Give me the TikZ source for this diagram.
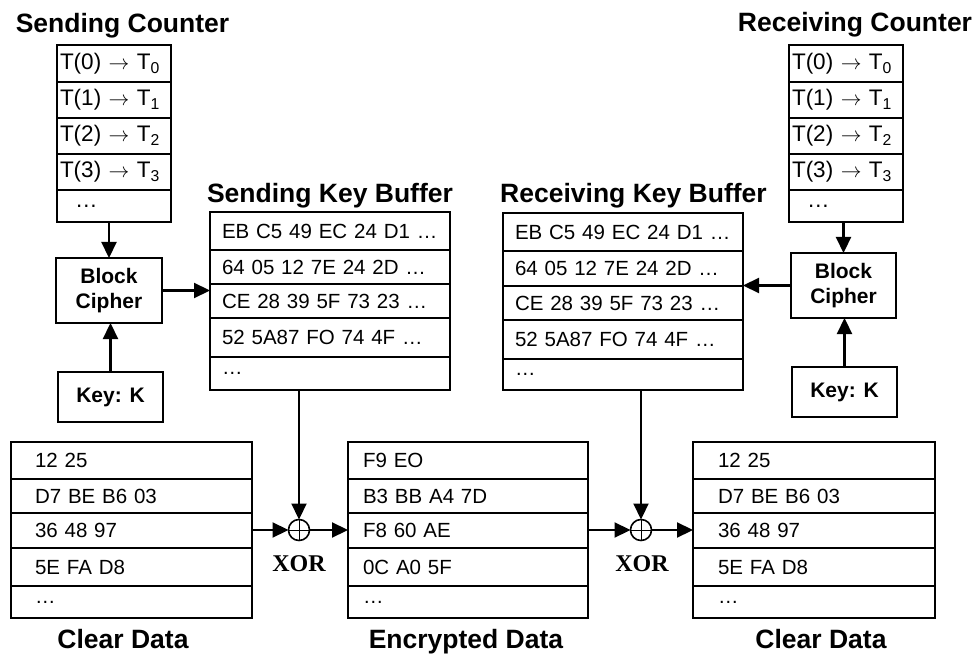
\documentclass[tikz,border=0pt]{standalone}
\usepackage{fontspec}
\setmainfont{Liberation Sans}
\newfontfamily\xorfont{Liberation Serif}
\usetikzlibrary{arrows.meta}

% one row of a stacked table: name, style, x, top y, height, text
\newcommand\cellrow[6]{%
  \node[#2, minimum height=#5pt, anchor=north west] (#1) at (#3,#4) {\mbox{#6}};}

\begin{document}
\begin{tikzpicture}[x=1pt, y=-1pt,
  cellbase/.style={draw, line width=2.5pt, outer sep=0pt, inner ysep=0pt, align=left},
  ctrrow/.style={cellbase, inner xsep=3pt, text width=108pt, font=\fontsize{22.5}{26}\selectfont},
  keyrow/.style={cellbase, inner xsep=12pt, text width=216pt, font=\fontsize{20.5}{24}\selectfont},
  clrrow/.style={cellbase, inner xsep=24pt, text width=193pt, font=\fontsize{20.5}{24}\selectfont},
  encrow/.style={cellbase, inner xsep=15pt, text width=210pt, font=\fontsize{20.5}{24}\selectfont},
  clrrowb/.style={cellbase, inner xsep=25pt, text width=192pt, font=\fontsize{20.5}{24}\selectfont},
  unit/.style={draw, line width=2.5pt, outer sep=0pt, align=center, inner sep=0pt,
    font=\bfseries\fontsize{21}{25}\selectfont},
  title/.style={anchor=base, font=\bfseries\fontsize{26.5}{31}\selectfont},
  xorgate/.style={circle, draw, line width=1.6pt, minimum size=21pt, inner sep=0pt, outer sep=0pt,
    path picture={\draw[line width=1pt]
      (path picture bounding box.north) -- (path picture bounding box.south)
      (path picture bounding box.west) -- (path picture bounding box.east);}},
  xorlabel/.style={anchor=base, font=\xorfont\bfseries\fontsize{24}{28}\selectfont},
  arr/.style={line width=2.2pt, -{Triangle[length=16pt, width=15pt]}}]

\useasboundingbox (0,0) rectangle (977,660);

% ---------- titles ----------
\node[title] (tsc) at (122.5,33) {Sending Counter};
\node[title] (trc) at (855,32) {Receiving Counter};
\node[title] (tskb) at (330,203) {Sending Key Buffer};
\node[title] (trkb) at (633.5,203) {Receiving Key Buffer};

% ---------- sending counter ----------
\cellrow{sc0}{ctrrow}{57}{45}{37}{T(0) $\rightarrow$ T\textsubscript{0}}
\cellrow{sc1}{ctrrow}{57}{82}{36}{T(1) $\rightarrow$ T\textsubscript{1}}
\cellrow{sc2}{ctrrow}{57}{118}{36}{T(2) $\rightarrow$ T\textsubscript{2}}
\cellrow{sc3}{ctrrow}{57}{154}{36}{T(3) $\rightarrow$ T\textsubscript{3}}
\cellrow{sc4}{ctrrow}{57}{190}{32}{\hspace{15pt}\ldots}

% ---------- receiving counter ----------
\cellrow{rc0}{ctrrow}{789}{45}{37}{T(0) $\rightarrow$ T\textsubscript{0}}
\cellrow{rc1}{ctrrow}{789}{82}{36}{T(1) $\rightarrow$ T\textsubscript{1}}
\cellrow{rc2}{ctrrow}{789}{118}{36}{T(2) $\rightarrow$ T\textsubscript{2}}
\cellrow{rc3}{ctrrow}{789}{154}{36}{T(3) $\rightarrow$ T\textsubscript{3}}
\cellrow{rc4}{ctrrow}{789}{190}{32}{\hspace{15pt}\ldots}

% ---------- block ciphers and keys ----------
\node[unit, minimum width=106pt, minimum height=65pt] (sbc) at (109,290.5) {Block\\Cipher};
\node[unit, minimum width=105pt, minimum height=50pt] (skey) at (110.5,397) {Key: K};
\node[unit, minimum width=105pt, minimum height=65pt] (rbc) at (843.5,285.5) {Block\\Cipher};
\node[unit, minimum width=105pt, minimum height=50pt] (rkey) at (844.5,392) {Key: K};

% ---------- key buffers ----------
\cellrow{skb0}{keyrow}{210}{212}{38}{EB C5 49 EC 24 D1 \ldots}
\cellrow{skb1}{keyrow}{210}{250}{34}{64 05 12 7E 24 2D \ldots}
\cellrow{skb2}{keyrow}{210}{284}{34}{CE 28 39 5F 73 23 \ldots}
\cellrow{skb3}{keyrow}{210}{318}{39}{52 5A87 FO 74 4F \ldots}
\cellrow{skb4}{keyrow}{210}{357}{33}{\ldots}

\cellrow{rkb0}{keyrow}{503}{213}{38}{EB C5 49 EC 24 D1 \ldots}
\cellrow{rkb1}{keyrow}{503}{251}{35}{64 05 12 7E 24 2D \ldots}
\cellrow{rkb2}{keyrow}{503}{286}{34}{CE 28 39 5F 73 23 \ldots}
\cellrow{rkb3}{keyrow}{503}{320}{39}{52 5A87 FO 74 4F \ldots}
\cellrow{rkb4}{keyrow}{503}{359}{31}{\ldots}

% ---------- data tables ----------
\cellrow{cl0}{clrrow}{11}{442}{37}{12 25}
\cellrow{cl1}{clrrow}{11}{479}{34}{D7 BE B6 03}
\cellrow{cl2}{clrrow}{11}{513}{35}{36 48 97}
\cellrow{cl3}{clrrow}{11}{548}{38}{5E FA D8}
\cellrow{cl4}{clrrow}{11}{586}{32}{\ldots}

\cellrow{en0}{encrow}{348}{442}{37}{F9 EO}
\cellrow{en1}{encrow}{348}{479}{34}{B3 BB A4 7D}
\cellrow{en2}{encrow}{348}{513}{35}{F8 60 AE}
\cellrow{en3}{encrow}{348}{548}{38}{0C A0 5F}
\cellrow{en4}{encrow}{348}{586}{32}{\ldots}

\cellrow{cr0}{clrrowb}{693}{442}{37}{12 25}
\cellrow{cr1}{clrrowb}{693}{479}{34}{D7 BE B6 03}
\cellrow{cr2}{clrrowb}{693}{513}{35}{36 48 97}
\cellrow{cr3}{clrrowb}{693}{548}{38}{5E FA D8}
\cellrow{cr4}{clrrowb}{693}{586}{32}{\ldots}

% ---------- XOR gates ----------
\node[xorgate] (xor1) at (299,530) {};
\node[xorgate] (xor2) at (641,530) {};
\node[xorlabel] (lx1) at (299,571) {XOR};
\node[xorlabel] (lx2) at (642,571) {XOR};

% ---------- bottom captions ----------
\node[title] (tcl) at (123,648) {Clear Data};
\node[title] (ten) at (466,648) {Encrypted Data};
\node[title] (tcr) at (821,648) {Clear Data};

% ---------- connectors ----------
\draw[arr] (sbc.north |- sc4.south) -- (sbc.north);
\draw[arr] (skey.north) -- (skey.north |- sbc.south);
\draw[arr] (sbc.east) -- (sbc.east -| skb2.west);

\draw[arr] (rbc.north |- rc4.south) -- (rbc.north);
\draw[arr] (rkey.north) -- (rkey.north |- rbc.south);
\draw[arr] (rbc.west) -- (rbc.west -| rkb2.east);

\draw[arr] (xor1 |- skb4.south) -- (xor1.north);
\draw[arr] (xor2 |- rkb4.south) -- (xor2.north);

\draw[arr] (cl2.east |- xor1) -- (xor1.west);
\draw[arr] (xor1.east) -- (xor1 -| en2.west);
\draw[arr] (en2.east |- xor2) -- (xor2.west);
\draw[arr] (xor2.east) -- (xor2 -| cr2.west);

\end{tikzpicture}
\end{document}
